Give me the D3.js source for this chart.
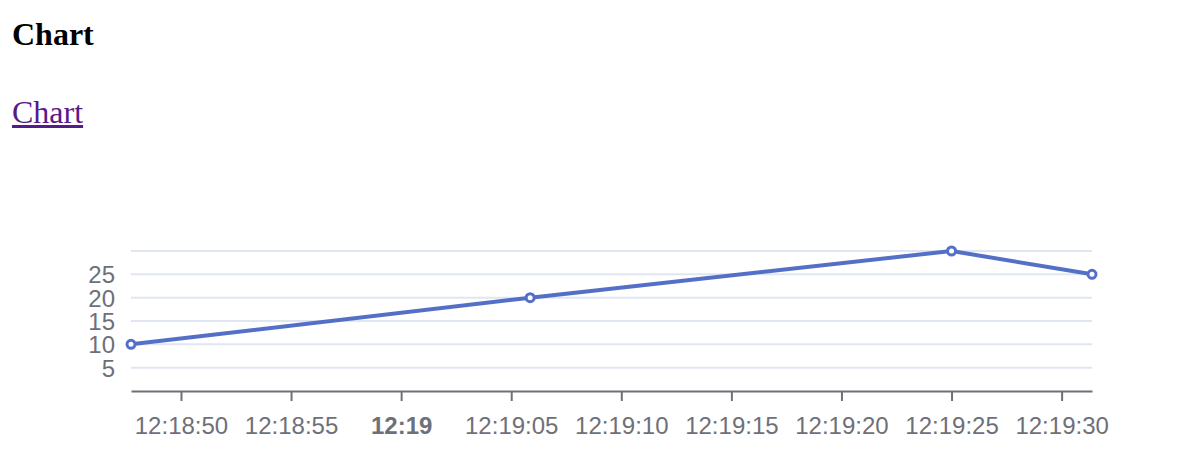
<!DOCTYPE html>
<html>
<head>
<meta charset="utf-8">
<script src="https://cdn.jsdelivr.net/npm/d3@7"></script>
<style>
  body { margin: 0; background: #fff; }
  .title { position: absolute; left: 12px; top: 18px; font: bold 32px/32px "Liberation Serif", serif; margin: 0; }
  .link { position: absolute; left: 12px; top: 96px; font: 32px/32px "Liberation Serif", serif; color: #551a8b; }
  #chart { position: absolute; left: 0; top: 0; }
  .tick text { font-family: "Liberation Sans", Arial, sans-serif; }
</style>
</head>
<body>
<div class="title">Chart</div>
<a class="link" href="#">Chart</a>
<div id="chart"></div>
<script>
// data
var times = ["12:18:47.730", "12:19:05.860", "12:19:25.000", "12:19:31.380"];
var values = [10, 20, 30, 25];
var yTicks = [5, 10, 15, 20, 25];

var margin = {top: 251, right: 108, bottom: 77, left: 131},
    width = 1200 - margin.left - margin.right,
    height = 468 - margin.top - margin.bottom;

var parseTime = d3.timeParse("%H:%M:%S.%L");
var data = times.map(function(t, i) { return {time: parseTime(t), value: values[i]}; });

var svg = d3.select("#chart")
    .append("svg")
    .attr("width", 1200)
    .attr("height", 468)
    .append("g")
    .attr("transform", "translate(" + margin.left + "," + margin.top + ")");

var x = d3.scaleTime()
    .domain(d3.extent(data, function(d) { return d.time; }))
    .range([0, width]);

var y = d3.scaleLinear()
    .domain([0, 30])
    .range([height, 0]);

// horizontal grid lines
svg.selectAll("gridLine")
    .data([5, 10, 15, 20, 25, 30])
    .enter()
    .append("line")
    .attr("x1", 0)
    .attr("x2", width)
    .attr("y1", function(d) { return y(d); })
    .attr("y2", function(d) { return y(d); })
    .attr("stroke", "#e0e6f1")
    .attr("stroke-width", 2);

// Y axis: labels only
var yAxis = svg.append("g")
    .call(d3.axisLeft(y).tickValues(yTicks).tickSize(0).tickPadding(16));
yAxis.select(".domain").remove();
yAxis.selectAll("text")
    .style("font-size", "24px")
    .attr("fill", "#6e7079")
    .attr("dy", "0.35em");

// X axis
var xAxis = svg.append("g")
    .attr("transform", "translate(0," + height + ")")
    .call(d3.axisBottom(x)
        .ticks(d3.timeSecond.every(5))
        .tickSizeInner(10)
        .tickSizeOuter(0)
        .tickPadding(16)
        .tickFormat(function(d) {
            return d.getSeconds() == 0 ? d3.timeFormat("%H:%M")(d) : d3.timeFormat("%H:%M:%S")(d);
        }));
xAxis.select(".domain")
    .attr("stroke", "#6e7079")
    .attr("stroke-width", 2);
xAxis.selectAll(".tick line")
    .attr("stroke", "#6e7079")
    .attr("stroke-width", 2);
xAxis.selectAll(".tick text")
    .style("font-size", "24px")
    .attr("fill", "#6e7079")
    .attr("dy", "0.72em")
    .style("font-weight", function(d) { return d.getSeconds() == 0 ? "bold" : "normal"; });

// the line
var line = d3.line()
    .x(function(d) { return x(d.time); })
    .y(function(d) { return y(d.value); });
svg.append("path")
    .datum(data)
    .attr("d", line)
    .attr("fill", "none")
    .attr("stroke", "#5470c6")
    .attr("stroke-width", 4)
    .attr("stroke-linejoin", "bevel");

// the points
svg.selectAll("myPoints")
    .data(data)
    .enter()
    .append("circle")
    .attr("cx", function(d) { return x(d.time); })
    .attr("cy", function(d) { return y(d.value); })
    .attr("r", 4)
    .attr("fill", "#fff")
    .attr("stroke", "#5470c6")
    .attr("stroke-width", 3);
</script>
</body>
</html>
